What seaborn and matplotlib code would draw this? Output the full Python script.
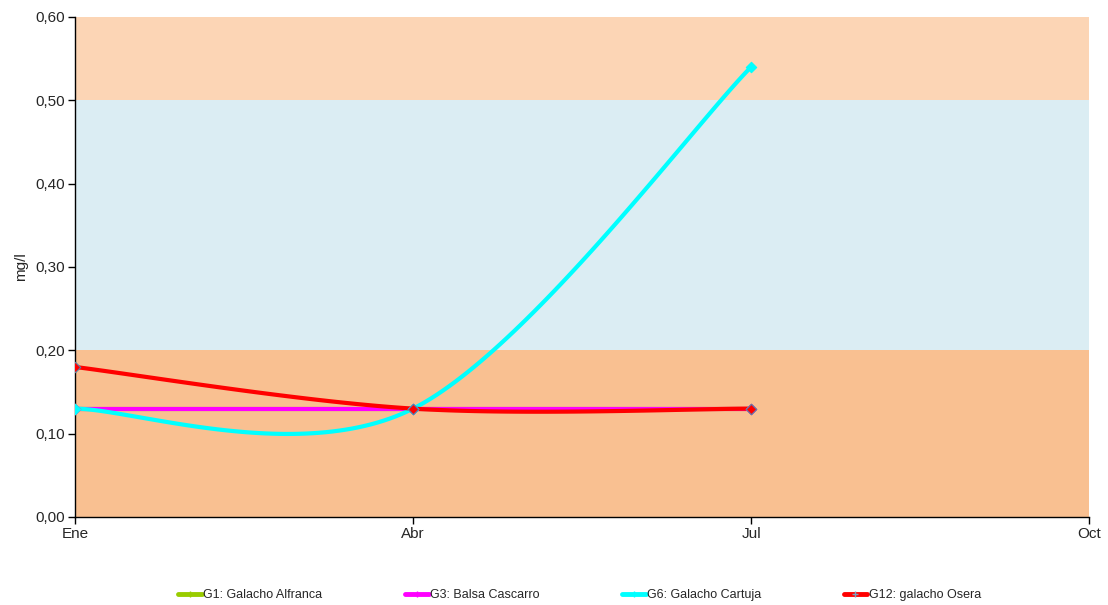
import numpy as np
import pandas as pd
import seaborn as sns
import matplotlib.pyplot as plt
from matplotlib.lines import Line2D

# data (mg/l)
months = ['Ene', 'Abr', 'Jul', 'Oct']
g1 = [0.13, 0.13, 0.13]
g3 = [0.13, 0.13, 0.13]
g6 = [0.13, 0.13, 0.54]
g12 = [0.18, 0.13, 0.13]

series = [
    ('G1: Galacho Alfranca', g1, '#99CC00'),
    ('G3: Balsa Cascarro', g3, '#FF00FF'),
    ('G6: Galacho Cartuja', g6, '#00FFFF'),
    ('G12: galacho Osera', g12, '#FF0000'),
]


def smooth(y, n=60):
    # Excel-like smoothed line (cubic bezier, tangent = (P[i+1]-P[i-1])/6)
    x = np.arange(len(y), dtype=float)
    p = np.column_stack([x, y])
    xs, ys = [], []
    for i in range(len(p) - 1):
        prev = p[i - 1] if i > 0 else p[i]
        nxt = p[i + 2] if i + 2 < len(p) else p[i + 1]
        c1 = p[i] + (p[i + 1] - prev) / 6
        c2 = p[i + 1] - (nxt - p[i]) / 6
        t = np.linspace(0, 1, n)[:, None]
        b = ((1 - t) ** 3) * p[i] + 3 * t * (1 - t) ** 2 * c1 + 3 * t ** 2 * (1 - t) * c2 + t ** 3 * p[i + 1]
        xs.extend(b[:, 0])
        ys.extend(b[:, 1])
    return xs, ys


sns.set_style("ticks")
plt.rcParams['font.family'] = ['Liberation Sans', 'DejaVu Sans']

fig, ax = plt.subplots(figsize=(11.08, 6.05), dpi=100)
fig.subplots_adjust(left=0.0677, right=0.983, top=0.972, bottom=0.1455)

# background bands
ax.axhspan(0.0, 0.2, color='#F9C091', zorder=0, lw=0)
ax.axhspan(0.2, 0.5, color='#DBEDF3', zorder=0, lw=0)
ax.axhspan(0.5, 0.6, color='#FCD5B5', zorder=0, lw=0)

handles = []
for name, vals, col in series:
    xs, ys = smooth(vals)
    sns.lineplot(x=xs, y=ys, ax=ax, color=col, lw=3, sort=False, estimator=None, zorder=3)
    sns.scatterplot(x=range(len(vals)), y=vals, ax=ax, color=col, marker='D', s=28,
                    edgecolor='#5A7FA8' if col == '#FF0000' else col, linewidth=0.8, zorder=4)
    handles.append(Line2D([0], [0], color=col, lw=3.5, marker='+', markersize=5,
                          markeredgecolor='#7F9FBF' if col == '#FF0000' else col))

ax.set_xlim(0, 3)
ax.set_ylim(0, 0.6)
ax.set_xticks(range(4))
ax.set_xticklabels(months, fontsize=11)
yt = np.arange(0, 0.61, 0.1)
ax.set_yticks(yt)
ax.set_yticklabels([f'{v:.2f}'.replace('.', ',') for v in yt], fontsize=11)
ax.tick_params(axis='both', length=5, width=1, color='black', pad=2)
ax.set_ylabel('mg/l', fontsize=11)
ax.yaxis.set_label_coords(-0.046, 0.5)
sns.despine(ax=ax)
for s in ['left', 'bottom']:
    ax.spines[s].set_color('black')
    ax.spines[s].set_linewidth(1)

fig.legend(handles, [s[0] for s in series], loc='lower center', ncol=4, frameon=False,
           fontsize=9, bbox_to_anchor=(0.523, -0.012), handlelength=1.9, handletextpad=0.1,
           columnspacing=6.6)

fig.savefig('out.png', dpi=100)
